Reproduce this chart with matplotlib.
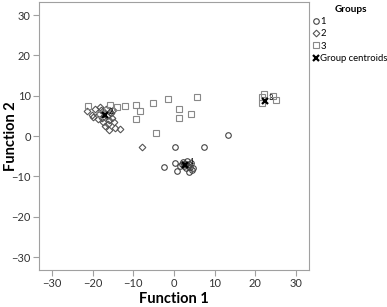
import numpy as np
import matplotlib
matplotlib.use('Agg')
from matplotlib import pyplot as plt
from matplotlib.lines import Line2D

plt.rcParams['font.family'] = ['Lato', 'DejaVu Sans']

# group 1 (circles)
g1_x = [13.4, 0.3, 7.5, -2.4, 0.2, 0.7, 1.5, 2.2, 2.8, 3.2, 3.6, 4.0, 4.4, 3.0, 2.5, 3.8, 4.2, 1.9, 3.4, 4.6]
g1_y = [0.2, -2.7, -2.6, -7.6, -6.7, -8.6, -7.3, -6.4, -6.8, -6.1, -7.0, -7.6, -8.3, -7.9, -7.3, -8.8, -6.6, -6.9, -7.5, -7.9]

# group 2 (diamonds)
g2_x = [-21.5, -20.2, -19.4, -18.2, -15.9, -14.5, -13.3, -7.9, -18.5, -17.8, -17.2, -16.5, -16.0,
        -15.5, -17.5, -16.2, -18.8, -15.2, -14.8, -19.8, -16.8, -15.0, -17.0, -18.0, -15.7]
g2_y = [6.2, 5.2, 6.8, 7.2, 1.5, 2.0, 1.7, -2.6, 5.5, 4.5, 6.0, 5.0, 4.0,
        5.8, 3.5, 3.0, 4.2, 4.6, 3.6, 4.8, 6.8, 6.5, 2.5, 6.4, 6.0]

# group 3 (squares)
g3_x = [-21.1, -15.7, -13.9, -12.0, -9.4, -8.4, -9.3, -5.1, -1.4, 5.6, 1.3, 4.3, 1.3, -4.4,
        -18.2, -16.5, 21.6, 22.1, 24.3, 25.1, 21.6]
g3_y = [7.5, 7.6, 7.2, 7.4, 7.6, 6.2, 4.2, 8.2, 9.1, 9.6, 6.6, 5.6, 4.5, 0.7,
        5.6, 6.5, 9.6, 10.4, 9.9, 8.9, 8.1]

# group centroids
cen_x = [2.8, -17.0, 22.4]
cen_y = [-7.2, 5.2, 8.6]
cen_lab = ['1', '2', '3']

fig = plt.figure(figsize=(3.87, 3.07), dpi=100)
ax = fig.add_axes([0.1008, 0.1205, 0.697, 0.8723])

ms = 4
ax.plot(g1_x, g1_y, 'o', ms=ms, mfc='none', mec='#444444', mew=0.8)
ax.plot(g2_x, g2_y, 'D', ms=ms - 0.6, mfc='none', mec='#555555', mew=0.8)
ax.plot(g3_x, g3_y, 's', ms=ms - 0.3, mfc='none', mec='#888888', mew=0.8)
ax.plot(cen_x, cen_y, 'x', ms=5, mec='black', mew=1.6)
for cx, cy, lab in zip(cen_x, cen_y, cen_lab):
    ax.text(cx + 0.9, cy + 0.3, lab, fontsize=5.5, color='black')

ax.set_xlim(-33.2, 33.2)
ax.set_ylim(-33.2, 33.2)
ax.set_xticks(np.arange(-30, 31, 10))
ax.set_yticks(np.arange(-30, 31, 10))
for s in ax.spines.values():
    s.set_color('#a0a0a0')
ax.tick_params(direction='out', length=4, width=0.8, pad=2, color='#a0a0a0',
               labelsize=8, labelcolor='#333333')
ax.set_xlabel('Function 1', fontsize=10.5, fontweight='bold', labelpad=2)
ax.set_ylabel('Function 2', fontsize=10.5, fontweight='bold', va='center')
ax.yaxis.set_label_coords(-0.105, 0.5)

handles = [
    Line2D([], [], ls='none', marker='o', ms=ms, mfc='none', mec='#444444', mew=0.8),
    Line2D([], [], ls='none', marker='D', ms=ms - 0.6, mfc='none', mec='#555555', mew=0.8),
    Line2D([], [], ls='none', marker='s', ms=ms - 0.3, mfc='none', mec='#888888', mew=0.8),
    Line2D([], [], ls='none', marker='x', ms=5, mec='black', mew=1.6),
]
leg = fig.legend(handles, ['1', '2', '3', 'Group centroids'], title='Groups',
                 loc='upper left', bbox_to_anchor=(0.797, 1.0), frameon=False,
                 fontsize=6.8, title_fontsize=7.2, handlelength=0.5, handletextpad=0.25,
                 labelspacing=0.35, borderaxespad=0.2, borderpad=0.3, alignment='center')
leg.get_title().set_fontweight('bold')

plt.savefig('out.png', dpi=100)
